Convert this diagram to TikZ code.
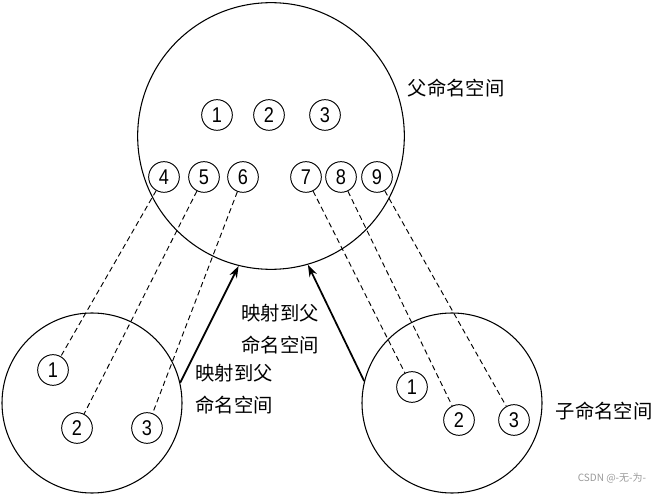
\documentclass[tikz,border=0pt]{standalone}
\usepackage{fontspec}
\setmainfont{Liberation Sans}
\newfontfamily\numfont[FakeStretch=0.85]{Liberation Sans}
\newfontfamily\cjk{Noto Sans CJK SC}
\usetikzlibrary{arrows.meta}
\begin{document}
\begin{tikzpicture}[x=0.75pt,y=-0.75pt,
  big/.style={draw,circle,line width=0.8pt,inner sep=0pt},
  num/.style={draw,circle,line width=0.7pt,minimum size=23pt,inner sep=0pt,font=\numfont\fontsize{16}{16}\selectfont},
  link/.style={line width=0.7pt,dash pattern=on 4pt off 2.6pt},
  mapto/.style={line width=1.3pt,-{Stealth[length=9pt,width=6pt]}},
  lbl/.style={font=\cjk\fontsize{14.5}{24}\selectfont,align=left,inner sep=0pt}]
\useasboundingbox (0,0) rectangle (661,495);
% namespaces
\node[big,minimum size=200pt] (P) at (271,136) {};
\node[big,minimum size=135pt] (L) at (92,403) {};
\node[big,minimum size=135pt] (R) at (452,403) {};
% parent processes
\node[num] (p1) at (217,115) {1};
\node[num] (p2) at (269,115) {2};
\node[num] (p3) at (325,115) {3};
\node[num] (p4) at (164,177) {4};
\node[num] (p5) at (204,177) {5};
\node[num] (p6) at (243,177) {6};
\node[num] (p7) at (306,177) {7};
\node[num] (p8) at (341,177) {8};
\node[num] (p9) at (377,177) {9};
% left child processes
\node[num] (l1) at (53,370) {1};
\node[num] (l2) at (77,428) {2};
\node[num] (l3) at (147,428) {3};
% right child processes
\node[num] (r1) at (412,387) {1};
\node[num] (r2) at (459,420) {2};
\node[num] (r3) at (514,420) {3};
% mappings
\draw[link] (p4) -- (l1);
\draw[link] (p5) -- (l2);
\draw[link] (p6) -- (l3);
\draw[link] (p7) -- (r1);
\draw[link] (p8) -- (r2);
\draw[link] (p9) -- (r3);
\draw[mapto] (L.13) -- (P.-104.5);
\draw[mapto] (R.166.6) -- (P.-74.7);
% labels
\node[lbl] (tp) at (456,88) {父命名空间};
\node[lbl] (tc) at (604,411) {子命名空间};
\node[lbl] (m1) at (280,329) {映射到父\\命名空间};
\node[lbl] (m2) at (234,389) {映射到父\\命名空间};
\node[font=\cjk\fontsize{7.5}{9}\selectfont,text=black!40,inner sep=0pt] (wm) at (612,478) {CSDN @-无-为-};
\end{tikzpicture}
\end{document}
